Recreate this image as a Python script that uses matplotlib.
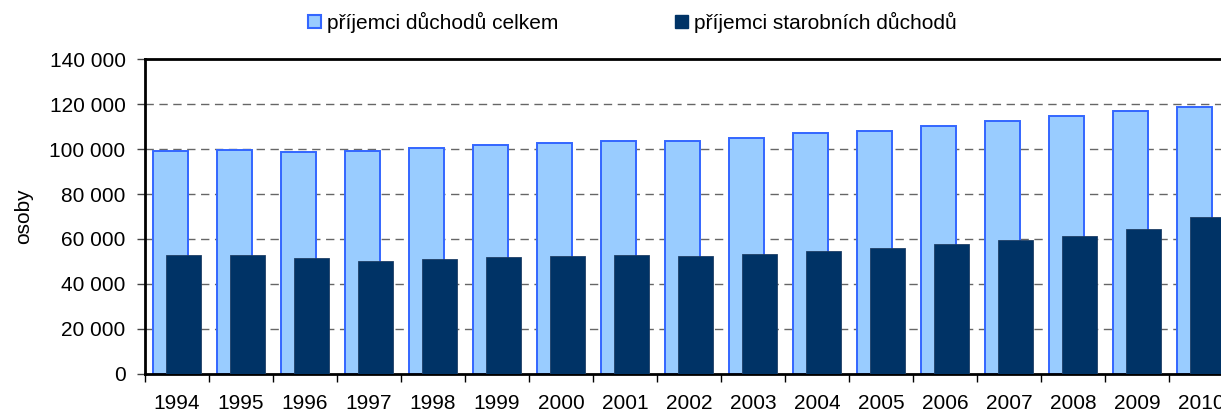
import matplotlib
matplotlib.use("Agg")
import matplotlib.pyplot as plt
from matplotlib.patches import Patch
from matplotlib.ticker import FuncFormatter, FixedLocator
import numpy as np

years = ["1994", "1995", "1996", "1997", "1998", "1999", "2000", "2001", "2002",
         "2003", "2004", "2005", "2006", "2007", "2008", "2009", "2010"]
total = [99200, 99700, 98800, 99100, 100600, 102000, 102800, 103500, 103800,
         105000, 107000, 108300, 110500, 112600, 114800, 117100, 119000]
old_age = [52800, 52600, 51300, 50100, 50900, 51900, 52500, 52900, 52500,
           53200, 54600, 55900, 57800, 59500, 61400, 64200, 69600]
label_total = "příjemci důchodů celkem"
label_old = "příjemci starobních důchodů"
ylabel = "osoby"

plt.rcParams['font.family'] = ['Liberation Sans', 'DejaVu Sans']
FS = 15

fig = plt.figure(figsize=(12.21, 4.11), dpi=100)
ax = fig.add_axes([145/1221, 1-373.5/411, (1233-145)/1221, (373.5-59.4)/411])

x = np.arange(len(years))
w = 0.55
ax.bar(x - 0.105, total, width=w, color='#99CCFF', edgecolor='#3366FF', linewidth=1.4, zorder=2)
ax.bar(x + 0.105, old_age, width=w, color='#003366', edgecolor='#1F3F66', linewidth=0.6, zorder=3)

ax.set_xlim(-0.5, len(years) - 0.5)
ax.set_ylim(0, 140000)
ax.set_yticks(np.arange(0, 140001, 20000))
ax.yaxis.set_major_formatter(FuncFormatter(lambda v, p: f"{int(v):,}".replace(",", " ")))
ax.set_xticks(x)
ax.set_xticklabels(years)
ax.xaxis.set_minor_locator(FixedLocator(np.arange(-0.5, len(years), 1)))
ax.tick_params(axis='x', which='major', length=0, pad=15, labelsize=FS)
ax.tick_params(axis='x', which='minor', length=6, width=1, color='black')
ax.tick_params(axis='y', length=6, width=1, color='#444444', labelsize=FS, pad=8)

for yv in range(20000, 140000, 20000):
    ax.axhline(yv, color='#666666', linestyle=(0, (6, 4)), linewidth=1, zorder=1)

for s in ['left', 'bottom', 'top']:
    ax.spines[s].set_linewidth(2)
    ax.spines[s].set_color('black')
ax.spines['right'].set_visible(False)

ax.set_ylabel(ylabel, fontsize=FS, labelpad=12)

handles = [Patch(facecolor='#99CCFF', edgecolor='#3366FF', linewidth=1.5, label=label_total),
           Patch(facecolor='#003366', edgecolor='#003366', label=label_old)]
fig.legend(handles=handles, loc='center', bbox_to_anchor=(0.518, 0.946), ncol=2,
           frameon=False, fontsize=FS, handlelength=0.6, handleheight=0.6,
           handletextpad=0.3, columnspacing=5.6)

fig.savefig("out.png", dpi=100)
